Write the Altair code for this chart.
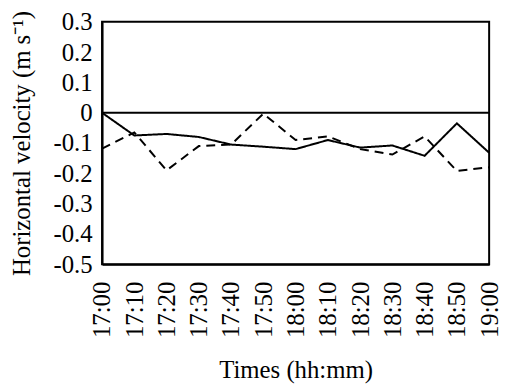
import altair as alt
import pandas as pd

times = ["17:00", "17:10", "17:20", "17:30", "17:40", "17:50", "18:00",
         "18:10", "18:20", "18:30", "18:40", "18:50", "19:00"]
solid = [0.0, -0.075, -0.07, -0.08, -0.105, -0.112, -0.12,
         -0.09, -0.115, -0.108, -0.142, -0.035, -0.132]
dashed = [-0.118, -0.065, -0.19, -0.11, -0.105, -0.003, -0.09,
          -0.078, -0.12, -0.138, -0.078, -0.192, -0.18]
y_ticks = [0.3, 0.2, 0.1, 0, -0.1, -0.2, -0.3, -0.4, -0.5]

rows = []
for i, t in enumerate(times):
    rows.append({"time": t, "v": solid[i], "series": "solid"})
    rows.append({"time": t, "v": dashed[i], "series": "dashed"})
df = pd.DataFrame(rows)

FONT = "Liberation Serif, Times New Roman, serif"
FS = 25

x = alt.X("time:O", sort=times, scale=alt.Scale(type="point", padding=0),
          axis=alt.Axis(title="Times (hh:mm)", labelAngle=-90, labelFont=FONT,
                        labelFontSize=FS, labelColor="black", titleFont=FONT,
                        titleFontSize=FS, titleFontWeight="normal", titleColor="black",
                        ticks=False, domain=True, domainColor="black", domainWidth=2,
                        labelPadding=17, titlePadding=20, labelBaseline="middle",
                        labelAlign="right", labelOverlap=False))
y_axis = alt.Axis(title="Horizontal velocity (m  s⁻¹)", values=y_ticks,
                  labelExpr="datum.value == 0 ? '0' : replace(format(datum.value, '.1f'), '\u2212', '-')",
                  labelFont=FONT, labelFontSize=FS, labelColor="black",
                  titleFont=FONT, titleFontSize=FS, titleFontWeight="normal",
                  titleColor="black", ticks=False, grid=False,
                  domainColor="black", domainWidth=2, labelPadding=10,
                  titlePadding=19, labelOverlap=False, labelBound=False)
y = alt.Y("v:Q", scale=alt.Scale(domain=[-0.5, 0.3], nice=False), axis=y_axis)

lines = alt.Chart(df).mark_line(color="black", strokeWidth=2).encode(
    x=x, y=y,
    strokeDash=alt.StrokeDash("series:N", scale=alt.Scale(domain=["solid", "dashed"],
                                                         range=[[1, 0], [9, 6]]),
                              legend=None),
    detail="series:N",
)

zero = alt.Chart(pd.DataFrame({"v": [0.0]})).mark_rule(color="black", strokeWidth=2).encode(
    y=y)

chart = alt.layer(lines, zero).properties(
    width=391, height=245,
    autosize=alt.AutoSizeParams(type="none"),
    padding={"left": 95, "top": 12, "right": 14, "bottom": 123},
).configure_view(stroke="black", strokeWidth=2).configure_axis(
    grid=False, labelOverlap=False).configure_axisY(labelOverlap=False)

chart.save("out.html", embed_options={"renderer": "svg", "actions": False})
